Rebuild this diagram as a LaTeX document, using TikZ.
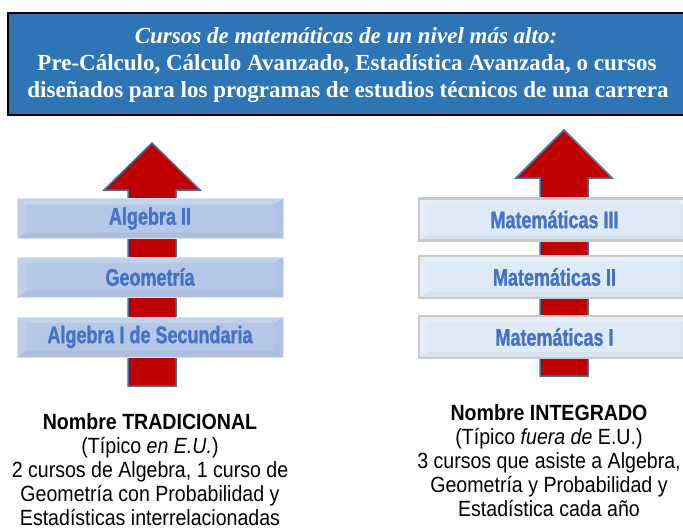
\documentclass[tikz,border=0pt]{standalone}
\usepackage{fontspec}
\setmainfont{Liberation Serif}
\newfontfamily\narrowsans[FakeStretch=0.89]{Liberation Sans}
\newfontfamily\boxsans[FakeStretch=0.75,FakeBold=1.2]{Liberation Sans}
\definecolor{titleblue}{HTML}{2E75B6}
\definecolor{arrowred}{HTML}{C00000}
\definecolor{arrowedge}{HTML}{41719C}
\definecolor{lfill}{HTML}{B4C7E7}
\definecolor{ledge}{HTML}{DAE3F3}
\definecolor{rfill}{HTML}{DEEBF7}
\definecolor{redge}{HTML}{C9C9C9}
\definecolor{txtblue}{HTML}{4472C4}
\tikzset{
  bevel/.style={path picture={
    \fill[white,opacity=0.2] (path picture bounding box.north west) -- (path picture bounding box.north east)
      -- ([shift={(-9pt,-6pt)}]path picture bounding box.north east) -- ([shift={(9pt,-6pt)}]path picture bounding box.north west) -- cycle;
    \fill[white,opacity=0.15] (path picture bounding box.north west) -- ([shift={(9pt,-6pt)}]path picture bounding box.north west)
      -- ([shift={(9pt,6pt)}]path picture bounding box.south west) -- (path picture bounding box.south west) -- cycle;
    \fill[black,opacity=0.035] (path picture bounding box.south west) -- (path picture bounding box.south east)
      -- ([shift={(-9pt,6pt)}]path picture bounding box.south east) -- ([shift={(9pt,6pt)}]path picture bounding box.south west) -- cycle;
    \fill[black,opacity=0.025] (path picture bounding box.north east) -- ([shift={(-9pt,-6pt)}]path picture bounding box.north east)
      -- ([shift={(-9pt,6pt)}]path picture bounding box.south east) -- (path picture bounding box.south east) -- cycle;
  }},
  lbox/.style={bevel, rectangle, draw=ledge, line width=0.8pt, fill=lfill, minimum width=266pt, minimum height=40pt,
    inner sep=0pt, font=\boxsans\bfseries\fontsize{24}{26}\selectfont, text=txtblue},
  rbox/.style={bevel, rectangle, draw=redge, line width=2.5pt, fill=rfill, minimum width=271pt, minimum height=42pt,
    inner sep=0pt, font=\boxsans\bfseries\fontsize{24}{26}\selectfont, text=txtblue},
  bigarrow/.style={fill=arrowred, draw=arrowedge, line width=1.5pt, line join=miter},
  caption/.style={align=center, inner sep=0pt, font=\narrowsans\fontsize{22}{24}\selectfont, text=black},
  title/.style={anchor=base, inner sep=0pt, text=white, font=\bfseries\fontsize{23}{27}\selectfont}
}
\begin{document}
\begin{tikzpicture}[x=1pt,y=-1pt]
\useasboundingbox (0,0) rectangle (683,531);
% title box
\draw[fill=titleblue, draw=black, line width=2pt] (8,13) rectangle (700,115);
\node[title] (t1) at (346,43) {\itshape Cursos de matemáticas de un nivel más alto:};
\node[title] (t2) at (347,70) {Pre-Cálculo, Cálculo Avanzado, Estadística Avanzada, o cursos};
\node[title] (t3) at (348,97) {diseñados para los programas de estudios técnicos de una carrera};
% arrows
\draw[bigarrow] (152,143) -- (200,190) -- (176,190) -- (176,386) -- (128,386) -- (128,190) -- (104,190) -- cycle;
\draw[bigarrow] (564,130) -- (612,178) -- (588,178) -- (588,376) -- (540,376) -- (540,178) -- (516,178) -- cycle;
% left boxes
\node[lbox] (a2) at (150,218.5) {Algebra II};
\node[lbox] (geo) at (150,277) {Geometría};
\node[lbox] (a1) at (150,337) {Algebra I de Secundaria};
% right boxes
\node[rbox] (m3) at (554.5,219.5) {Matemáticas III};
\node[rbox] (m2) at (554.5,277) {Matemáticas II};
\node[rbox] (m1) at (554.5,337) {Matemáticas I};
% captions
\node[caption, anchor=north] (trad) at (150,413) {{\bfseries Nombre TRADICIONAL}\\
(Típico {\itshape en E.U.})\\
2 cursos de Algebra, 1 curso de\\
Geometría con Probabilidad y\\
Estadísticas interrelacionadas};
\node[caption, anchor=north] (integ) at (549,404.5) {{\bfseries Nombre INTEGRADO}\\
(Típico {\itshape fuera de} E.U.)\\
3 cursos que asiste a Algebra,\\
Geometría y Probabilidad y\\
Estadística cada año};
\end{tikzpicture}
\end{document}
